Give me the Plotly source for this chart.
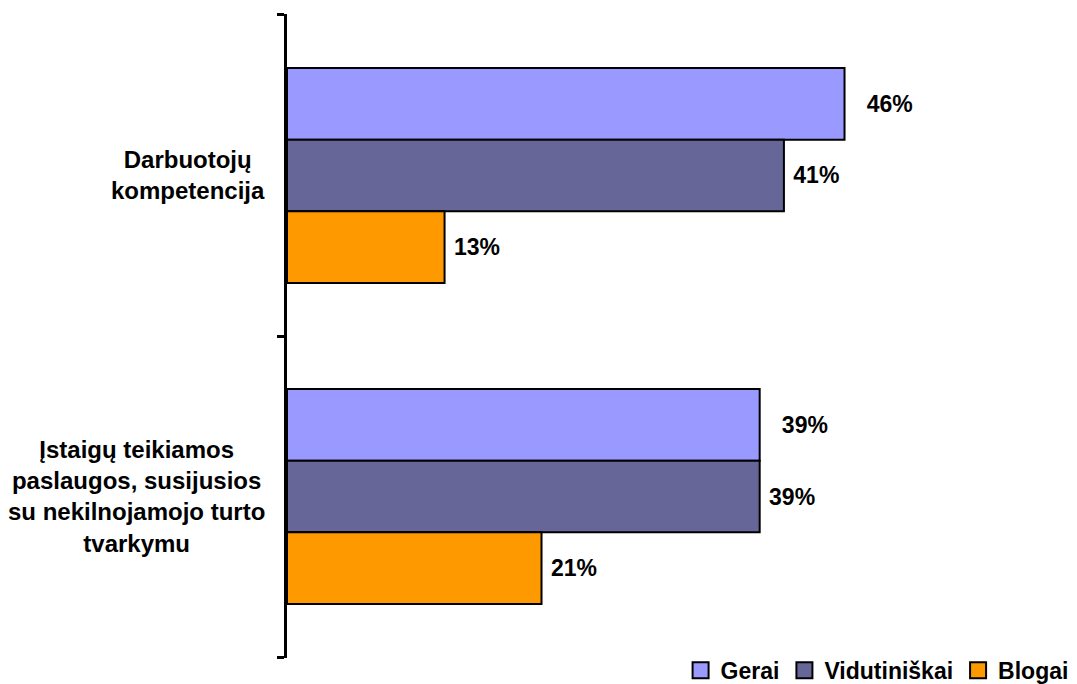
import plotly.graph_objects as go

categories = ["Darbuotojų kompetencija",
              "Įstaigų teikiamos paslaugos, susijusios su nekilnojamojo turto tvarkymu"]
category_labels = ["Darbuotojų<br>kompetencija",
                   "Įstaigų teikiamos<br>paslaugos, susijusios<br>su nekilnojamojo turto<br>tvarkymu"]
series_names = ["Gerai", "Vidutiniškai", "Blogai"]
gerai = [46, 39]
vidutiniskai = [41, 39]
blogai = [13, 21]
series_values = [gerai, vidutiniskai, blogai]
colors = ["#9999FF", "#666699", "#FF9900"]
label_templates = ["&nbsp;&nbsp;&nbsp;%{x}%", "&nbsp;%{x}%", "&nbsp;%{x}%"]

FONT = "Liberation Sans, Arial, sans-serif"

fig = go.Figure()
for name, vals, col, tpl in zip(series_names, series_values, colors, label_templates):
    fig.add_trace(go.Bar(
        y=categories, x=vals, name=name, orientation="h", showlegend=False,
        marker=dict(color=col, line=dict(color="black", width=2)),
        text=vals, texttemplate=tpl, textposition="outside",
        textfont=dict(family=FONT, size=23, color="black", weight="bold"),
        cliponaxis=False,
    ))

# legend entries with larger square swatches
for name, col in zip(series_names, colors):
    fig.add_trace(go.Scatter(
        x=[None], y=[None], mode="markers", name=name,
        marker=dict(symbol="square", size=16, color=col, line=dict(color="black", width=2)),
    ))

for cat, lab in zip(categories, category_labels):
    fig.add_annotation(
        x=-0.033, xref="paper", y=cat, yref="y", text="<b>" + lab + "</b>",
        xanchor="right", yanchor="middle", align="center", showarrow=False,
        font=dict(family=FONT, size=24, color="black"),
    )

fig.update_layout(
    width=1077, height=684,
    margin=dict(l=287, r=184, t=14, b=26, autoexpand=False),
    paper_bgcolor="white", plot_bgcolor="white",
    barmode="group", bargap=0.33, bargroupgap=0,
    font=dict(family=FONT, color="black"),
    showlegend=True,
    legend=dict(orientation="h", x=1.298, xanchor="right", y=-0.019, yanchor="middle",
                font=dict(family=FONT, size=23, color="black", weight="bold"),
                itemwidth=30, tracegroupgap=0, bgcolor="rgba(0,0,0,0)"),
    xaxis=dict(range=[0, 50], visible=False, showgrid=False, zeroline=False),
    yaxis=dict(range=[1.503, -0.503], showline=True, linecolor="black", linewidth=3,
               tickmode="array", tickvals=[-0.5, 0.5, 1.5],
               ticks="outside", ticklen=7, tickwidth=3,
               tickcolor="black", showticklabels=False, showgrid=False, zeroline=False),
)

fig.write_html("out.html", config={"displayModeBar": False},
               post_script="document.body.style.margin='0';document.body.style.overflow='hidden';")
